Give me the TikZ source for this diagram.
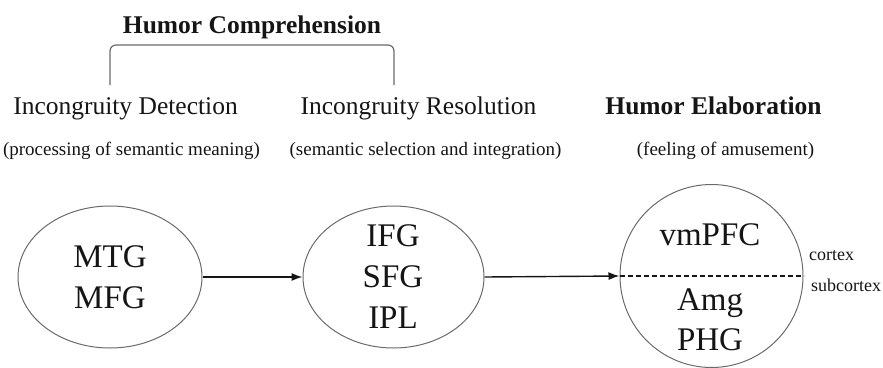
\documentclass[tikz,border=0pt]{standalone}
\usepackage{fontspec}
\setmainfont{Liberation Serif}
\usetikzlibrary{shapes.geometric,arrows.meta}
\definecolor{ink}{HTML}{151515}
\definecolor{rim}{HTML}{6A6A6A}
\tikzset{
  heading/.style={font=\fontsize{25.5}{30}\selectfont, text=ink, anchor=base, inner sep=0pt},
  boldheading/.style={heading, font=\fontsize{25.5}{30}\selectfont\bfseries},
  subhead/.style={font=\fontsize{19}{23}\selectfont, text=ink, anchor=base, inner sep=0pt},
  region/.style={font=\fontsize{33}{41}\selectfont, text=ink, anchor=base, inner sep=0pt, align=center},
  layer/.style={font=\fontsize{18}{22}\selectfont, text=ink, anchor=base, inner sep=0pt},
  blob/.style={draw=rim, line width=1pt, ellipse, inner sep=0pt},
  flow/.style={draw=ink, line width=1.4pt, -{Latex[length=11pt,width=8pt]}},
}
\begin{document}
\begin{tikzpicture}[x=1pt,y=-1pt]
\useasboundingbox (0,0) rectangle (883,367);

% headings
\node[boldheading] (comp) at (252,33) {Humor Comprehension};
\node[heading] (det) at (125.5,114) {Incongruity Detection};
\node[heading] (res) at (418.5,114) {Incongruity Resolution};
\node[boldheading] (elab) at (713.5,114) {Humor Elaboration};
\node[subhead] (detsub) at (131.5,155) {(processing of semantic meaning)};
\node[subhead] (ressub) at (425.5,155) {(semantic selection and integration)};
\node[subhead] (elabsub) at (725.5,155) {(feeling of amusement)};

% bracket joining the two comprehension stages
\coordinate (bl) at (110,85);
\coordinate (br) at (394,85);
\draw[rim, line width=1.2pt, rounded corners=6pt] (bl) |- (252,45) -| (br);

% brain-region groups
\node[blob, minimum width=184pt, minimum height=142pt] (e1) at (110,277) {};
\node[blob, minimum width=181pt, minimum height=142pt] (e2) at (393.5,277) {};
\node[blob, circle, minimum size=183pt] (e3) at (711.5,276) {};

\node[region] (mtg) at (110,267) {MTG};
\node[region] (mfg) at (110,308) {MFG};
\node[region] (ifg) at (393,246.5) {IFG};
\node[region] (sfg) at (393,287) {SFG};
\node[region] (ipl) at (393,328) {IPL};
\node[region] (vmpfc) at (710,245) {vmPFC};
\node[region] (amg) at (710,310.5) {Amg};
\node[region] (phg) at (710,350.5) {PHG};

% cortex / subcortex divide
\draw[ink, line width=1.2pt, dash pattern=on 5pt off 3pt] (e3.west) -- (e3.east);
\node[layer] (ctx) at (831.5,260) {cortex};
\node[layer] (subctx) at (846,291.5) {subcortex};

% processing flow
\draw[flow] (e1.east) -- (e2.west);
\draw[flow] (e2.east) -- (e3.west);
\end{tikzpicture}
\end{document}
